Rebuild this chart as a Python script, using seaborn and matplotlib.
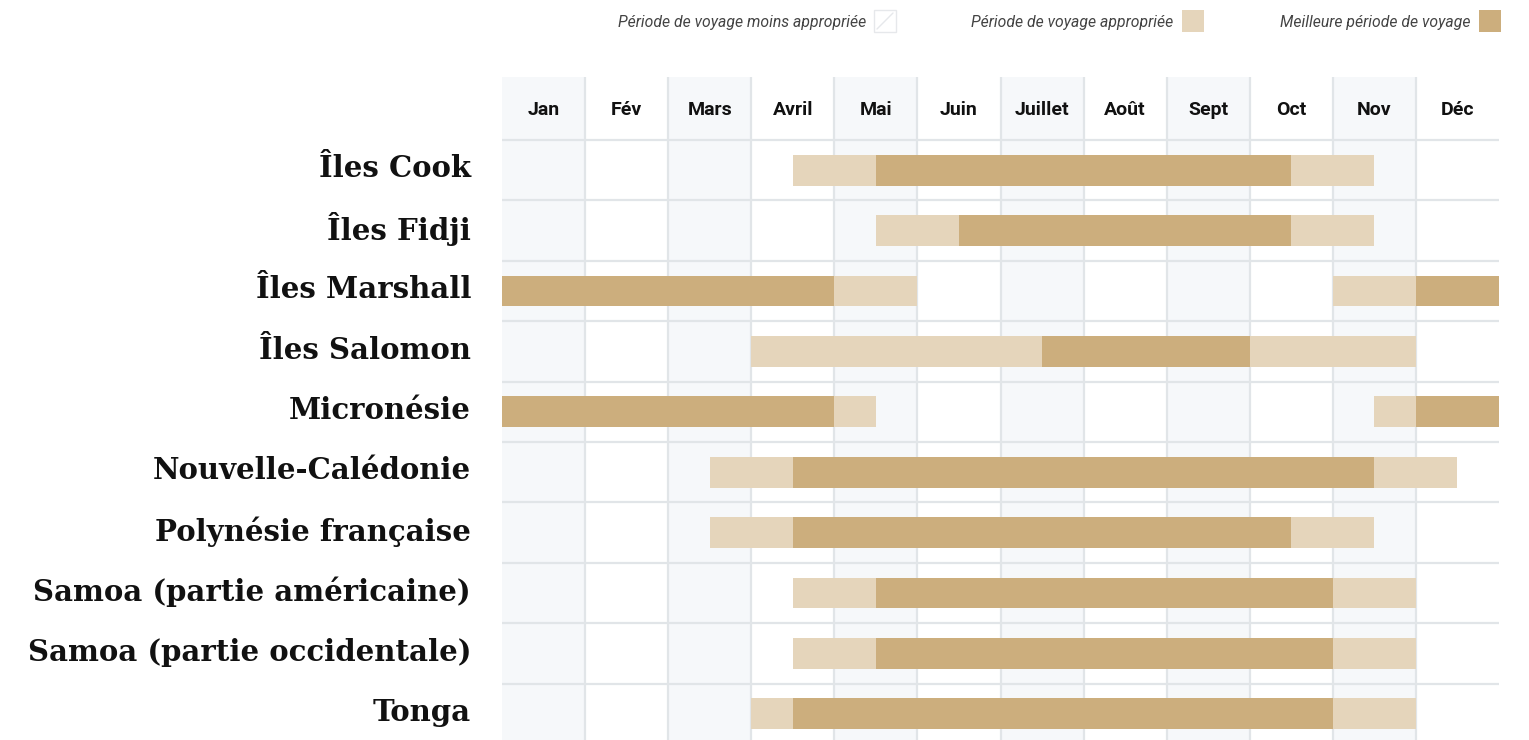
import pandas as pd
import seaborn as sns
import matplotlib.pyplot as plt
from matplotlib.patches import Rectangle
from matplotlib.lines import Line2D
from matplotlib.transforms import blended_transform_factory

# Months (column headers)
months = ["Jan", "Fév", "Mars", "Avril", "Mai", "Juin", "Juillet", "Août",
          "Sept", "Oct", "Nov", "Déc"]

countries = ["Îles Cook", "Îles Fidji", "Îles Marshall", "Îles Salomon",
             "Micronésie", "Nouvelle-Calédonie", "Polynésie française",
             "Samoa (partie américaine)", "Samoa (partie occidentale)", "Tonga"]

# Periods in months (0 = start of Jan, 12 = end of Dec), half-month steps
good_periods = [
    [(3.5, 4.5), (9.5, 10.5)],
    [(4.5, 5.5), (9.5, 10.5)],
    [(4, 5), (10, 11)],
    [(3, 6.5), (9, 11)],
    [(4, 4.5), (10.5, 11)],
    [(2.5, 3.5), (10.5, 11.5)],
    [(2.5, 3.5), (9.5, 10.5)],
    [(3.5, 4.5), (10, 11)],
    [(3.5, 4.5), (10, 11)],
    [(3, 3.5), (10, 11)],
]
best_periods = [
    [(4.5, 9.5)],
    [(5.5, 9.5)],
    [(0, 4), (11, 12)],
    [(6.5, 9)],
    [(0, 4), (11, 12)],
    [(3.5, 10.5)],
    [(3.5, 9.5)],
    [(4.5, 10)],
    [(4.5, 10)],
    [(3.5, 10)],
]

legend_labels = ["Période de voyage moins appropriée",
                 "Période de voyage appropriée",
                 "Meilleure période de voyage"]

COL_BEST = "#CCAE7D"
COL_GOOD = "#E5D5BB"
COL_SHADE = "#F6F8FA"
COL_GRID = "#E1E5E8"

sns.set_theme(style="white")
plt.rcParams["font.family"] = ["Roboto", "DejaVu Sans"]

W, H = 1529, 740
fig = plt.figure(figsize=(W / 100, H / 100), dpi=100)
ax = fig.add_axes([502 / W, 0, 997 / W, (740 - 77) / H])

row_h = 60.4
y_bottom = (740 - 140) / row_h
y_top = (77 - 140) / row_h
ax.set_xlim(0, 12)
ax.set_ylim(y_bottom, y_top)

# alternating column shading
for m in range(0, 12, 2):
    ax.axvspan(m, m + 1, color=COL_SHADE, lw=0, zorder=0)
ax.vlines(range(1, 12), y_top, y_bottom, color=COL_GRID, lw=1.6, zorder=1)
ax.hlines(range(0, 10), 0, 12, color=COL_GRID, lw=1.6, zorder=1)

# build segment table
rows = []
for i, c in enumerate(countries):
    for s, e in good_periods[i]:
        rows.append((c, i, s, e, COL_GOOD))
    for s, e in best_periods[i]:
        rows.append((c, i, s, e, COL_BEST))
seg = pd.DataFrame(rows, columns=["country", "row", "start", "end", "color"])

ax.barh(seg["row"] + 0.5, seg["end"] - seg["start"], left=seg["start"],
        height=0.51, color=seg["color"], lw=0, zorder=2)

for m, lab in enumerate(months):
    ax.text(m + 0.5, -0.5, lab, ha="center", va="center", fontsize=14,
            fontweight="bold", color="#111111")

# country labels, right-aligned left of the grid
trans = blended_transform_factory(ax.transAxes, ax.transData)
for i, c in enumerate(countries):
    ax.text(-31 / 997, i + 0.5 - 0.02, c, transform=trans, ha="right",
            va="center", family=["DejaVu Serif"], fontweight="bold",
            fontsize=21, color="#111111")
ax.set_xticks([])
ax.set_yticks([])
for sp in ax.spines.values():
    sp.set_visible(False)

# legend
def px_rect(x, y, w, h, **kw):
    return Rectangle((x / W, 1 - (y + h) / H), w / W, h / H,
                     transform=fig.transFigure, **kw)

sw_x = [874, 1182, 1479]
txt_x = [866, 1173, 1471]
sw_col = ["white", COL_GOOD, COL_BEST]
for k in range(3):
    if k == 0:
        fig.add_artist(px_rect(sw_x[k], 10, 22, 22, facecolor="white",
                               edgecolor="#E6E8EB", lw=1))
        fig.add_artist(Line2D([(sw_x[k] + 3) / W, (sw_x[k] + 19) / W],
                              [1 - 29 / H, 1 - 13 / H], color="#E6E8EB",
                              lw=1, transform=fig.transFigure))
    else:
        fig.add_artist(px_rect(sw_x[k], 10, 22, 22, facecolor=sw_col[k], lw=0))
    fig.text(txt_x[k] / W, 1 - 22 / H, legend_labels[k], ha="right",
             va="center", fontsize=11.3, style="italic", color="#444444")

fig.savefig("out.png", dpi=100)
